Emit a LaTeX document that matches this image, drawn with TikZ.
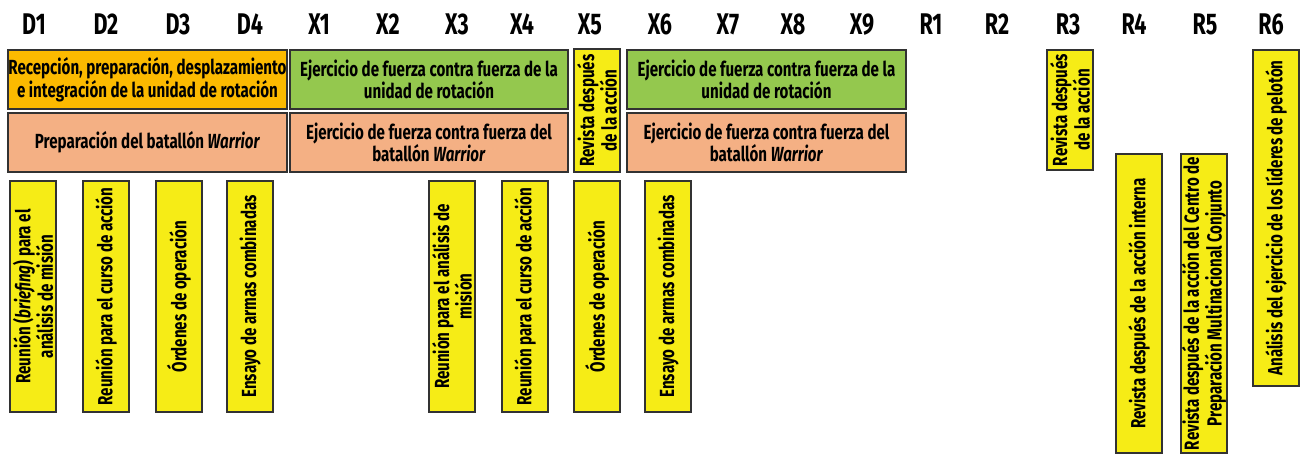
\documentclass[tikz,border=0pt]{standalone}
\usepackage{fontspec}
\setmainfont{Fira Sans}[FakeStretch=0.72]
\newfontfamily\bxfont{Fira Sans}[FakeStretch=0.74]
\definecolor{cOrange}{RGB}{252,186,0}
\definecolor{cGreen}{RGB}{148,200,78}
\definecolor{cSalmon}{RGB}{244,176,132}
\definecolor{cYellow}{RGB}{246,236,22}
\definecolor{cEdge}{RGB}{50,50,50}
\tikzset{
  box/.style={draw=cEdge, line width=1.2bp, inner sep=0pt, align=center},
  hbox/.style={box, minimum height=59bp, font=\bxfont\bfseries\fontsize{20.5}{20.5}\selectfont},
  vbox/.style={box, fill=cYellow, rotate=90, minimum height=46bp, font=\bxfont\bfseries\fontsize{20.5}{21}\selectfont},
  hdr/.style={anchor=base, inner sep=0pt, font=\bfseries\fontsize{30}{30}\selectfont}
}
\begin{document}
\begin{tikzpicture}[x=1bp,y=-1bp]
\useasboundingbox (0,0) rectangle (1301,455);
% headers
\foreach \n/\x in {D1/34,D2/106,D3/178,D4/250,X1/319,X2/388,X3/457,X4/522,X5/590,X6/660,X7/728,X8/793,X9/862,R1/931,R2/997,R3/1068,R4/1134,R5/1205,R6/1271}
  \node[hdr] (h\n) at (\x,35) {\n};
% horizontal boxes
\node[hbox, fill=cOrange, minimum width=279bp] (rec) at (147.5,79.5)
  {Recepción, preparación, desplazamiento\\e integración de la unidad de rotación};
\node[hbox, fill=cSalmon, minimum width=279bp] (prep) at (147.5,142.5)
  {Preparación del batallón \textit{Warrior}};
\node[hbox, fill=cGreen, minimum width=278bp] (ejA) at (429,79.5)
  {Ejercicio de fuerza contra fuerza de la\\unidad de rotación};
\node[hbox, fill=cSalmon, minimum width=278bp] (batA) at (429,142.5)
  {Ejercicio de fuerza contra fuerza del\\batallón \textit{Warrior}};
\node[hbox, fill=cGreen, minimum width=279bp] (ejB) at (766.5,79.5)
  {Ejercicio de fuerza contra fuerza de la\\unidad de rotación};
\node[hbox, fill=cSalmon, minimum width=279bp] (batB) at (766.5,142.5)
  {Ejercicio de fuerza contra fuerza del\\batallón \textit{Warrior}};
% upper vertical boxes
\node[vbox, minimum width=123bp] (revX) at (597,110.5) {Revista después\\de la acción};
\node[vbox, minimum width=120bp] (revR) at (1070,110) {Revista después\\de la acción};
\node[vbox, minimum width=299bp] (rA) at (1139,303.5) {Revista después de la acción interna};
\node[vbox, minimum width=299bp] (rB) at (1204,303.5) {Revista después de la acción del Centro de\\Preparación Multinacional Conjunto};
\node[vbox, minimum width=336bp] (rC) at (1276,218) {Análisis del ejercicio de los líderes de pelotón};
% lower vertical boxes
\node[vbox, minimum width=231bp] (dA) at (33,296.5) {Reunión (\textit{briefing}) para el\\análisis de misión};
\node[vbox, minimum width=231bp] (dB) at (106,296.5) {Reunión para el curso de acción};
\node[vbox, minimum width=231bp] (dC) at (179,296.5) {Órdenes de operación};
\node[vbox, minimum width=231bp] (dD) at (250,296.5) {Ensayo de armas combinadas};
\node[vbox, minimum width=231bp] (xA) at (452,296.5) {Reunión para el análisis de\\misión};
\node[vbox, minimum width=231bp] (xB) at (525,296.5) {Reunión para el curso de acción};
\node[vbox, minimum width=231bp] (xC) at (597,296.5) {Órdenes de operación};
\node[vbox, minimum width=231bp] (xD) at (668,296.5) {Ensayo de armas combinadas};
\end{tikzpicture}
\end{document}
